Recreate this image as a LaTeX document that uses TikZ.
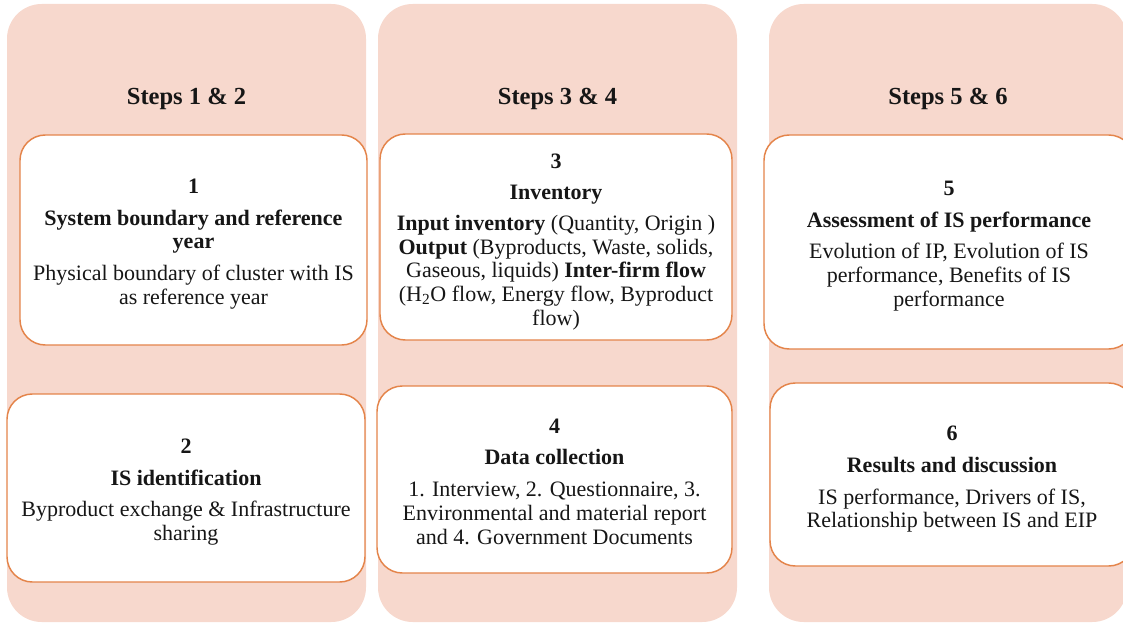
\documentclass[tikz,border=0pt]{standalone}
\usepackage{fontspec}
\setmainfont{Liberation Serif}
\definecolor{panelfill}{RGB}{247,216,205}
\definecolor{boxline}{RGB}{228,132,74}
\definecolor{ink}{RGB}{22,22,22}
\newcommand{\bodysize}{\fontsize{16.5pt}{17.8pt}\selectfont}
\begin{document}
\begin{tikzpicture}[x=0.75pt,y=-0.75pt,
  sz/.style 2 args={minimum width=#1*0.75pt, minimum height=#2*0.75pt},
  panel/.style={rectangle, fill=panelfill, draw=none, rounded corners=26pt, inner sep=0pt},
  stepbox/.style={rectangle, draw=boxline, line width=1.1pt, fill=white,
    rounded corners=19pt, inner sep=0pt},
  steptext/.style={align=center, text=ink, font=\bodysize, inner sep=0pt},
  steptitle/.style={anchor=base, text=ink, font=\fontsize{18.4pt}{20pt}\selectfont\bfseries}]
\useasboundingbox (0,0) rectangle (1123,623);
\clip (0,0) rectangle (1123,623);

% column backgrounds
\node[panel, sz={359}{618}] (p1) at (186.5,313) {};
\node[panel, sz={359}{618}] (p2) at (557.5,313) {};
\node[panel, sz={358}{618}] (p3) at (948,313) {};

% column headings
\node[steptitle] (t1) at (186.5,105) {Steps 1 \& 2};
\node[steptitle] (t2) at (557.5,105) {Steps 3 \& 4};
\node[steptitle] (t3) at (948,105) {Steps 5 \& 6};

% step boxes
\node[stepbox, sz={347}{210}] (b1) at (193.5,240) {};
\node[stepbox, sz={358}{188}] (b2) at (186,488) {};
\node[stepbox, sz={352}{206}] (b3) at (556,237) {};
\node[stepbox, sz={355}{187}] (b4) at (554.5,479.5) {};
\node[stepbox, sz={370}{214}] (b5) at (949,242) {};
\node[stepbox, sz={364}{183}] (b6) at (952,474.5) {};

% box contents
\node[steptext] (b1t) at ([yshift=-3pt]b1.center)
  {\textbf{1}\\[6pt]
   \textbf{System boundary and reference}\\
   \textbf{year}\\[6pt]
   Physical boundary of cluster with IS\\
   as reference year};

\node[steptext] (b2t) at ([yshift=-3pt]b2.center)
  {\textbf{2}\\[6pt]
   \textbf{IS identification}\\[6pt]
   Byproduct exchange \& Infrastructure\\
   sharing};

\node[steptext] (b3t) at ([yshift=-3.6pt]b3.center)
  {\textbf{3}\\[6pt]
   \textbf{Inventory}\\[5pt]
   \textbf{Input inventory} (Quantity, Origin )\\
   \textbf{Output} (Byproducts, Waste, solids,\\
   Gaseous, liquids) \textbf{Inter-firm flow}\\
   (H\textsubscript{2}O flow, Energy flow, Byproduct\\
   flow)};

\node[steptext] (b4t) at ([yshift=-1.5pt]b4.center)
  {\textbf{4}\\[6pt]
   \textbf{Data collection}\\[6pt]
   1. Interview, 2. Questionnaire, 3.\\
   Environmental and material report\\
   and 4. Government Documents};

\node[steptext] (b5t) at ([yshift=-3pt]b5.center)
  {\textbf{5}\\[6pt]
   \textbf{Assessment of IS performance}\\[6pt]
   Evolution of IP, Evolution of IS\\
   performance, Benefits of IS\\
   performance};

\node[steptext] (b6t) at ([yshift=-3.6pt]b6.center)
  {\textbf{6}\\[6pt]
   \textbf{Results and discussion}\\[6pt]
   IS performance, Drivers of IS,\\
   Relationship between IS and EIP};
\end{tikzpicture}
\end{document}
